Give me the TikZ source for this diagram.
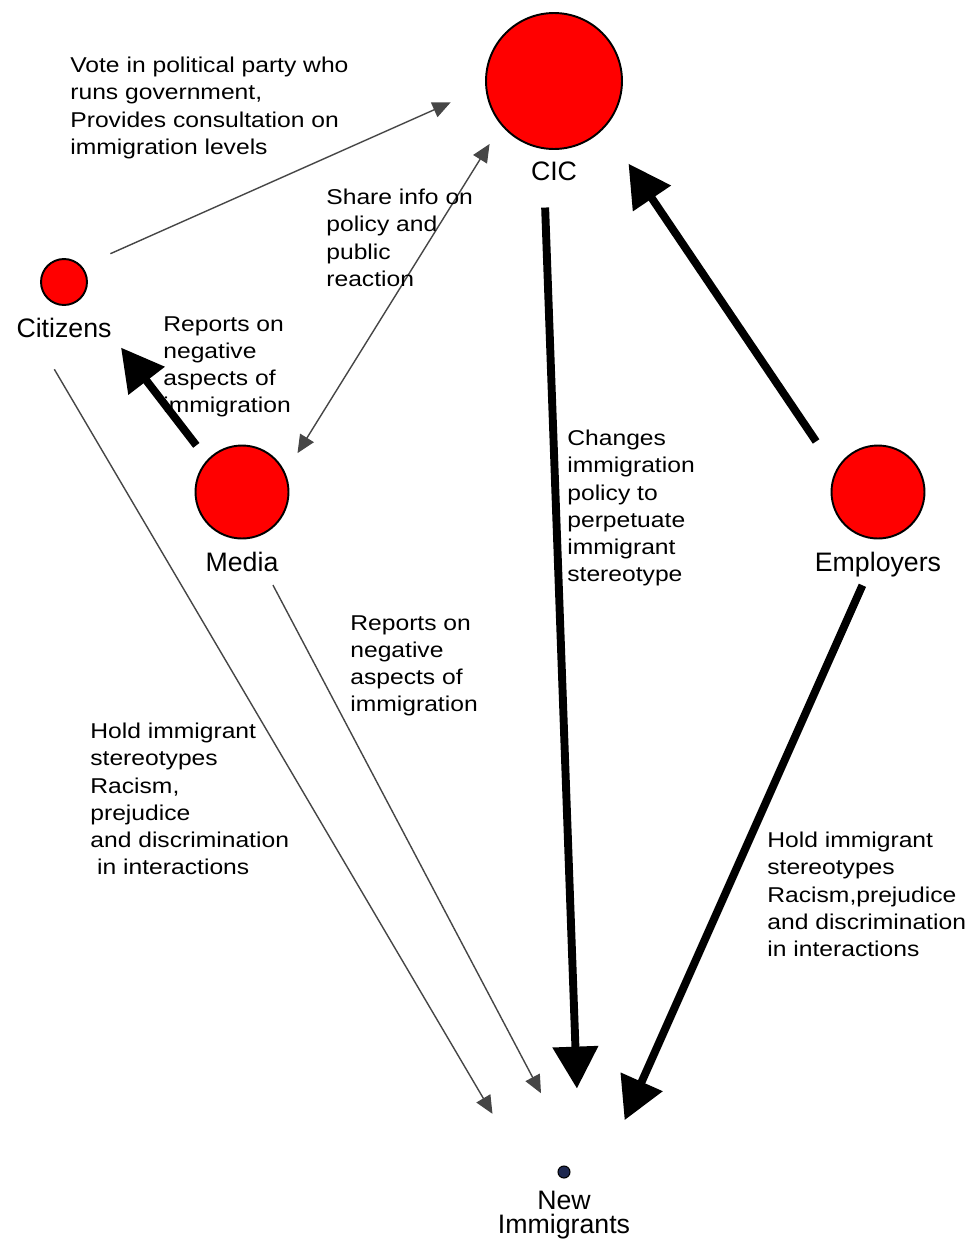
\documentclass[tikz,border=0pt]{standalone}
\usepackage{fontspec}
\setmainfont{Liberation Sans}
\newfontfamily\linkfont{Liberation Sans}[FakeStretch=1.15]
\usetikzlibrary{arrows.meta}
\definecolor{conceptred}{RGB}{255,0,0}
\definecolor{dotblue}{RGB}{30,40,80}
\definecolor{linkgray}{RGB}{70,70,70}
\tikzset{
  % concept nodes: red circles, name set underneath as a label
  concept/.style={circle,draw,line width=1.1pt,fill=conceptred,inner sep=0},
  big concept/.style={concept,minimum size=2.72cm},
  mid concept/.style={concept,minimum size=1.86cm},
  small concept/.style={concept,minimum size=0.92cm},
  dot concept/.style={circle,draw,line width=0.6pt,fill=dotblue,inner sep=0,minimum size=0.24cm},
  % two kinds of links: thin and thick
  thin link/.style={draw=linkgray,line width=0.8pt,>={Triangle[length=0.36cm,width=0.32cm]},->},
  thick link/.style={draw,line width=4.5pt,>={Triangle[length=0.84cm,width=0.88cm]},->},
  link text/.style={anchor=north west,inner sep=0,align=left,font=\linkfont\fontsize{12.2}{15.4}\selectfont}
}
\begin{document}
\begin{tikzpicture}[x=0.02cm,y=-0.02cm,label distance=0.24cm,
  every label/.style={inner sep=0,font=\fontsize{15.2}{14}\selectfont}]
  \useasboundingbox (0,0) rectangle (973,1248);
  % The concepts
  \node(cic)[big concept,label={[name=ciclab]below:CIC}] at (554,81) {};
  \node(cit)[small concept,label={[name=citlab]below:Citizens}] at (64,282) {};
  \node(media)[mid concept,label={[name=medialab]below:Media}] at (242,492) {};
  \node(emp)[mid concept,label={[name=emplab]below:Employers}] at (878,492) {};
  \node(ni)[dot concept,label={[name=nilab,align=center]below:New\\Immigrants}] at (564,1172) {};
  % links between them
  \draw[thin link,shorten <=0.62cm,shorten >=0.76cm](cit.41)--(cic.185);
  \draw[thin link,<->,shorten <=0.46cm,shorten >=0.44cm](media.24)--(cic.220);
  \draw[thick link,shorten <=0.36cm,shorten >=0.30cm](media.137)--(citlab.-9);
  \draw[thick link,shorten <=0.52cm,shorten >=2.04cm](ciclab.225)--(nilab.56);
  \draw[thick link,shorten <=0.70cm,shorten >=0.86cm](emp.153)--(cic.-43);
  \draw[thick link,shorten <=0.18cm,shorten >=1.54cm](emplab.227)--(nilab.40);
  \draw[thin link,shorten <=0.72cm,shorten >=1.78cm](citlab.200)--(nilab.137.5);
  \draw[thin link,shorten <=0.30cm,shorten >=2.20cm](medialab.-23)--(nilab.41);
  % link texts
  \node(vote)[link text] at (70,57) {Vote in political party who\\runs government,\\Provides consultation on\\immigration levels};
  \node(share)[link text] at (326,189) {Share info on\\policy and\\public\\reaction};
  \node(report1)[link text] at (163,316) {Reports on\\negative\\aspects of\\immigration};
  \node(policy)[link text] at (567,430) {Changes\\immigration\\policy to\\perpetuate\\immigrant\\stereotype};
  \node(report2)[link text] at (350,615) {Reports on\\negative\\aspects of\\immigration};
  \node(hold1)[link text] at (90,723) {Hold immigrant\\stereotypes\\Racism,\\prejudice\\and discrimination\\~in interactions};
  \node(hold2)[link text] at (767,832) {Hold immigrant\\stereotypes\\Racism,prejudice\\and discrimination\\in interactions};
\end{tikzpicture}
\end{document}
